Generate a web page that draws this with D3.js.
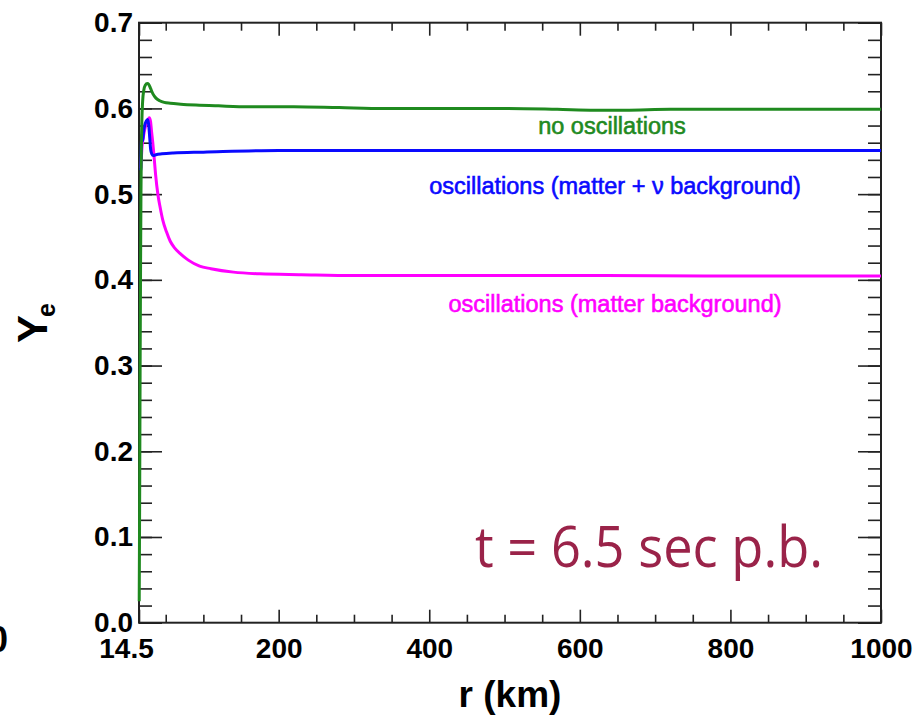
<!DOCTYPE html>
<html>
<head>
<meta charset="utf-8">
<script src="https://cdn.jsdelivr.net/npm/d3@7"></script>
<style>
  body { margin: 0; background: #fff; }
  text { font-family: "Liberation Sans", Arial, Helvetica, sans-serif; }
</style>
</head>
<body>
<div id="wrapper"></div>
<script>
// rayon (km) et Ye pour chaque courbe
var rNoOsc = [14.8, 15.4, 16.0, 16.6, 17.1, 17.6, 18.3, 19.3, 20.8, 22.8, 25.5, 27.5, 30, 33, 37, 42, 48, 56, 70, 90, 120, 160, 220, 280, 340, 420, 500, 570, 620, 660, 720, 800, 900, 1000];
var yeNoOsc = [0.025, 0.15, 0.30, 0.42, 0.50, 0.55, 0.585, 0.608, 0.621, 0.627, 0.629, 0.628, 0.623, 0.617, 0.612, 0.609, 0.607, 0.606, 0.605, 0.604, 0.603, 0.602, 0.602, 0.601, 0.600, 0.600, 0.600, 0.599, 0.598, 0.598, 0.599, 0.599, 0.599, 0.599];

var rNuBg = [16.8, 17.5, 18.5, 19.5, 20.5, 22, 24, 26, 27.5, 28.8, 30, 31.5, 33.5, 37, 45, 60, 100, 200, 400, 600, 800, 1000];
var yeNuBg = [0.528, 0.555, 0.57, 0.562, 0.572, 0.58, 0.585, 0.587, 0.58, 0.565, 0.552, 0.547, 0.545, 0.546, 0.547, 0.548, 0.549, 0.551, 0.551, 0.551, 0.551, 0.551];

var rMatter = [17, 18.5, 20, 22, 24.5, 26.5, 28.2, 29.8, 31.2, 32.8, 34.4, 36.5, 39.7, 42.5, 46, 51, 56, 62, 70, 80, 95, 110, 140, 175, 230, 300, 400, 600, 800, 1000];
var yeMatter = [0.53, 0.555, 0.565, 0.575, 0.583, 0.587, 0.589, 0.585, 0.573, 0.56, 0.545, 0.523, 0.499, 0.485, 0.47, 0.456, 0.445, 0.437, 0.430, 0.423, 0.416, 0.413, 0.409, 0.407, 0.406, 0.405, 0.405, 0.405, 0.4045, 0.4045];

// graduations
var xMajor = [14.5, 200, 400, 600, 800, 1000];
var xMinor = [50, 100, 150, 250, 300, 350, 450, 500, 550, 650, 700, 750, 850, 900, 950];
var yMajor = [0, 0.1, 0.2, 0.3, 0.4, 0.5, 0.6, 0.7];
var yMinor = d3.range(0, 0.7001, 0.02);

var labels = ['no oscillations', 'oscillations (matter + \u03bd background)', 'oscillations (matter background)'];

var W = 922, H = 720;
// attention : "top" est deja pris par window.top
var pLeft = 139, pRight = 881, pTop = 22.7, pBottom = 622.7;

var svg = d3.select('#wrapper').append('svg')
    .attr('width', W).attr('height', H);

var x = d3.scaleLinear().domain([14.5, 1000]).range([pLeft, pRight]);
var y = d3.scaleLinear().domain([0, 0.7]).range([pBottom, pTop]);

// axes : bas, haut, gauche, droite (graduations vers l'interieur)
function fmtX(d) { return d === 14.5 ? '14.5' : d3.format('d')(d); }

var gx = svg.append('g').attr('transform', 'translate(0,' + pBottom + ')')
    .call(d3.axisBottom(x).tickValues(xMajor).tickSize(-13).tickPadding(15).tickFormat(fmtX));
svg.append('g').attr('transform', 'translate(0,' + pBottom + ')')
    .call(d3.axisBottom(x).tickValues(xMinor).tickSize(-8).tickFormat(''));
svg.append('g').attr('transform', 'translate(0,' + pTop + ')')
    .call(d3.axisTop(x).tickValues(xMajor).tickSize(-13).tickFormat(''));
svg.append('g').attr('transform', 'translate(0,' + pTop + ')')
    .call(d3.axisTop(x).tickValues(xMinor).tickSize(-8).tickFormat(''));

var gy = svg.append('g').attr('transform', 'translate(' + pLeft + ',0)')
    .call(d3.axisLeft(y).tickValues(yMajor).tickSize(-23).tickPadding(6).tickFormat(d3.format('.1f')));
svg.append('g').attr('transform', 'translate(' + pLeft + ',0)')
    .call(d3.axisLeft(y).tickValues(yMinor).tickSize(-13).tickFormat(''));
svg.append('g').attr('transform', 'translate(' + pRight + ',0)')
    .call(d3.axisRight(y).tickValues(yMajor).tickSize(-23).tickFormat(''));
svg.append('g').attr('transform', 'translate(' + pRight + ',0)')
    .call(d3.axisRight(y).tickValues(yMinor).tickSize(-13).tickFormat(''));

svg.selectAll('.domain').remove();
svg.selectAll('.tick line').attr('stroke', '#222').attr('stroke-width', 1.6);
svg.selectAll('.tick text')
    .attr('fill', '#000')
    .style('font-size', '28px').style('font-weight', 'bold')
    .style('font-family', '"Liberation Sans", Arial, sans-serif');
gx.selectAll('.tick text').filter(function (d) { return d === 14.5; }).attr('dx', -13);

// cadre
svg.append('rect')
    .attr('x', pLeft).attr('y', pTop)
    .attr('width', pRight - pLeft).attr('height', pBottom - pTop)
    .attr('fill', 'none').attr('stroke', '#222').attr('stroke-width', 2);

// courbes
var line = d3.line()
    .x(function (d) { return x(d[0]); })
    .y(function (d) { return y(d[1]); })
    .curve(d3.curveMonotoneX);

var series = [
    { r: rMatter, ye: yeMatter, color: '#ff00ff' },
    { r: rNuBg, ye: yeNuBg, color: '#0a0aff' },
    { r: rNoOsc, ye: yeNoOsc, color: '#1f8a1f' }
];
series.forEach(function (s) {
    svg.append('path')
        .datum(d3.zip(s.r, s.ye))
        .attr('fill', 'none')
        .attr('stroke', s.color)
        .attr('stroke-width', 3)
        .attr('stroke-linejoin', 'round')
        .attr('d', line);
});

// etiquettes des courbes
var labelPos = [
    { x: 612, y: 134, color: '#1f8a1f' },
    { x: 615, y: 194, color: '#0a0aff' },
    { x: 615, y: 312, color: '#ff00ff' }
];
labels.forEach(function (t, i) {
    svg.append('text')
        .attr('x', labelPos[i].x).attr('y', labelPos[i].y)
        .attr('text-anchor', 'middle')
        .attr('fill', labelPos[i].color)
        .attr('stroke', labelPos[i].color).attr('stroke-width', 0.6)
        .style('font-size', '23.5px')
        .text(t);
});

// titres des axes
svg.append('text')
    .attr('x', (pLeft + pRight) / 2).attr('y', 707)
    .attr('text-anchor', 'middle')
    .style('font-size', '37px').style('font-weight', 'bold')
    .text('r (km)');

var yt = svg.append('g').attr('transform', 'translate(47,343) rotate(-90)');
yt.append('text').attr('x', 0).attr('y', 0)
    .style('font-size', '42px').style('font-weight', 'bold')
    .text('Y');
yt.append('text').attr('x', 26).attr('y', 8)
    .style('font-size', '25px').style('font-weight', 'bold')
    .text('e');

// bout de texte coupe a gauche
svg.append('text')
    .attr('x', 8).attr('y', 652)
    .attr('text-anchor', 'end')
    .style('font-size', '36px').style('font-weight', 'bold')
    .text('0');

// annotation
svg.append('text')
    .attr('x', 475).attr('y', 567)
    .attr('fill', '#9a2349')
    .attr('textLength', 348).attr('lengthAdjust', 'spacingAndGlyphs')
    .style('font-family', '"Open Sans", "Noto Sans", sans-serif')
    .style('font-size', '56px')
    .text('t = 6.5 sec p.b.');
</script>
</body>
</html>
